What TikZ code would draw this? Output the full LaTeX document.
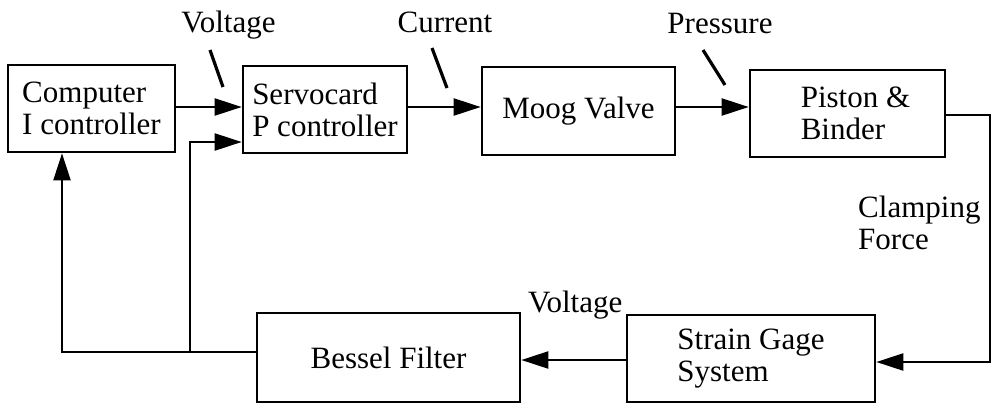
\documentclass[tikz,border=0pt]{standalone}
\usepackage{fontspec}
\setmainfont{Liberation Serif}
\usetikzlibrary{arrows.meta}
\begin{document}
\begin{tikzpicture}[x=1pt,y=-1pt,
  blk/.style={draw, line width=2.6pt, inner sep=0pt, align=left, font=\fontsize{31}{32}\selectfont},
  conn/.style={line width=2.2pt},
  arr/.style={conn, -{Triangle[length=27pt,width=17pt]}},
  lbl/.style={inner sep=0pt, font=\fontsize{31}{32}\selectfont},
  tickmark/.style={line width=3.2pt}]
\useasboundingbox (0,0) rectangle (995,405);
% blocks
\node[blk, minimum width=167pt, minimum height=87pt] (comp) at (91.5,108.5) {Computer\\I controller};
\node[blk, minimum width=164pt, minimum height=87pt] (servo) at (325,109.5) {Servocard\\P controller};
\node[blk, minimum width=193pt, minimum height=88pt] (moog) at (578.5,111) {Moog Valve};
\node[blk, minimum width=195pt, minimum height=87pt] (piston) at (847.5,113.5) {\hspace*{16pt}Piston \&\\\hspace*{16pt}Binder};
\node[blk, minimum width=248pt, minimum height=87pt] (strain) at (751,358.5) {Strain Gage\\System};
\node[blk, minimum width=263pt, minimum height=89pt] (bessel) at (388.5,357.5) {Bessel Filter};
% labels
\node[lbl, anchor=base] (lv1) at (228.5,32) {Voltage};
\node[lbl, anchor=base] (lc) at (445,32) {Current};
\node[lbl, anchor=base] (lp) at (720,33) {Pressure};
\node[lbl, anchor=base west] (lv2) at (528,312) {Voltage};
\node[lbl, anchor=north west, align=left] (lcf) at (858,196) {Clamping\\Force};
% label ticks
\draw[tickmark] (210,50) -- (223,87);
\draw[tickmark] (432,48) -- (447,88);
\draw[tickmark] (703,50) -- (725,85);
% connectors
\path ([yshift=1.5pt]comp.east) coordinate (c1);
\draw[arr] (c1) -- (c1 -| servo.west);
\path ([yshift=2.5pt]servo.east) coordinate (s1);
\draw[arr] (s1) -- (s1 -| moog.west);
\path ([yshift=4pt]moog.east) coordinate (m1);
\draw[arr] (m1) -- (m1 -| piston.west);
\path ([yshift=-1.5pt]piston.east) coordinate (p1);
\path ([yshift=-3.5pt]strain.east) coordinate (g1);
\draw[arr] (p1) -- (p1 -| 990,0) |- (g1);
\path ([yshift=-1.5pt]strain.west) coordinate (g2);
\draw[arr] (g2) -- (g2 -| bessel.east);
\path ([yshift=5.5pt]bessel.west) coordinate (b1);
\draw[arr] (b1) -| ([xshift=-29.5pt]comp.south);
\coordinate (br) at (190,352);
\path ([yshift=-32.5pt]servo.west) coordinate (s2);
\draw[arr] (br) |- (s2);
\end{tikzpicture}
\end{document}
